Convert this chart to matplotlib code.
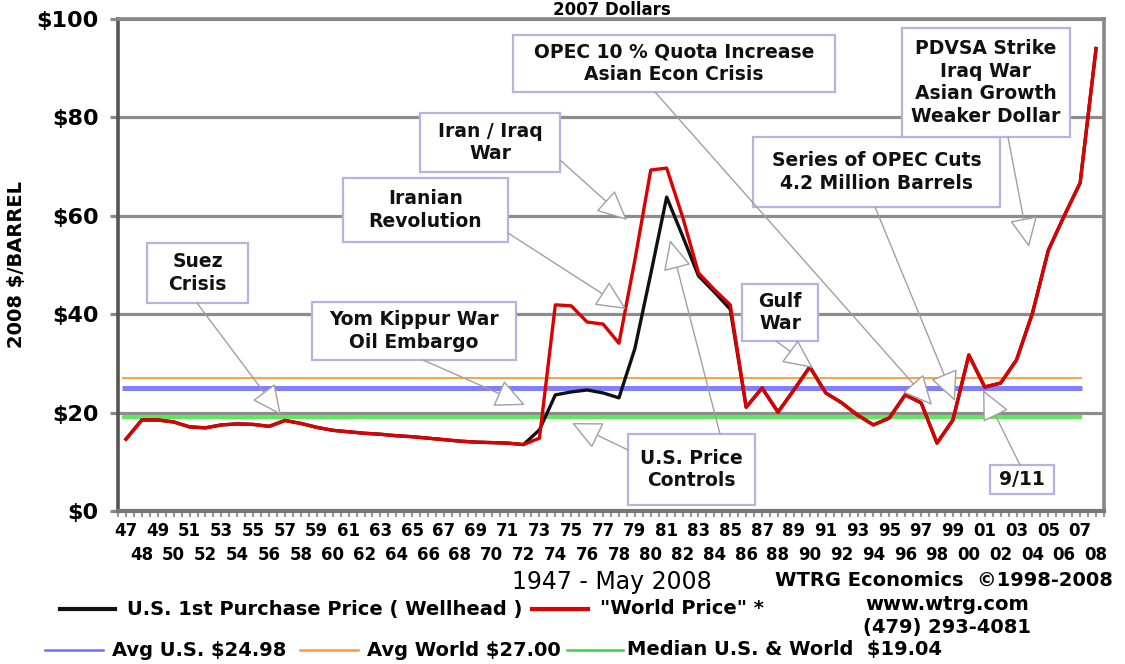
import numpy as np
import matplotlib
matplotlib.use("Agg")
import matplotlib.pyplot as plt
import matplotlib.transforms as mtransforms
from matplotlib.lines import Line2D
from matplotlib.patches import Rectangle, FancyArrowPatch

# ---------------- data ----------------
years = list(range(1947, 2009))
year_labels = [f"{y % 100:02d}" for y in years]

world_price = [14.6, 18.5, 18.5, 18.1, 17.1, 16.9, 17.5, 17.7, 17.6, 17.2,
               18.4, 17.8, 17.0, 16.4, 16.1, 15.8, 15.6, 15.3, 15.1, 14.8,
               14.5, 14.2, 14.0, 13.9, 13.8, 13.5, 14.8, 41.9, 41.7, 38.4,
               38.0, 34.1, 51.0, 69.3, 69.7, 59.8, 48.4, 45.0, 41.9, 21.1,
               25.0, 20.1, 24.6, 29.3, 24.0, 22.0, 19.5, 17.5, 18.9, 23.6,
               22.0, 13.8, 18.5, 31.7, 25.2, 26.0, 30.7, 40.2, 53.0, 60.0,
               66.7, 94.0]

us_price = [14.6, 18.5, 18.5, 18.1, 17.1, 16.9, 17.5, 17.7, 17.6, 17.2,
            18.4, 17.8, 17.0, 16.4, 16.1, 15.8, 15.6, 15.3, 15.1, 14.8,
            14.5, 14.2, 14.0, 13.9, 13.8, 13.5, 16.5, 23.6, 24.2, 24.6,
            24.0, 23.0, 33.0, 48.2, 63.8, 55.9, 47.8, 44.5, 41.0, 21.1,
            25.0, 20.1, 24.6, 29.3, 24.0, 22.0, 19.5, 17.5, 18.9, 23.6,
            22.0, 13.8, 18.5, 31.7, 25.2, 26.0, 30.7, 40.2, 53.0, 60.0,
            66.7, 94.0]

avg_us = 24.98
avg_world = 27.00
median_all = 19.04

y_ticks = [0, 20, 40, 60, 80, 100]
y_tick_labels = ["$0", "$20", "$40", "$60", "$80", "$100"]

# annotation boxes: text, (left, top, right, bottom) in pixels
boxes = [
    ("Suez\nCrisis", (147, 243, 248, 303)),
    ("Yom Kippur War\nOil Embargo", (312, 302, 516, 360)),
    ("Iranian\nRevolution", (343, 178, 508, 242)),
    ("Iran / Iraq\nWar", (420, 113, 560, 172)),
    ("OPEC 10 % Quota Increase\nAsian Econ Crisis", (513, 35, 835, 92)),
    ("Series of OPEC Cuts\n4.2 Million Barrels", (753, 137, 1000, 207)),
    ("PDVSA Strike\nIraq War\nAsian Growth\nWeaker Dollar", (902, 28, 1070, 137)),
    ("Gulf\nWar", (742, 284, 818, 341)),
    ("U.S. Price\nControls", (628, 434, 755, 505)),
    ("9/11", (990, 465, 1054, 494)),
]

# arrows: (start, tip) in pixels
arrows = [
    ((197, 303), (281, 415)),
    ((423, 360), (525, 405)),
    ((508, 233), (626, 309)),
    ((560, 160), (627, 220)),
    ((655, 92), (932, 405)),
    ((875, 207), (955, 401)),
    ((1008, 137), (1029, 247)),
    ((776, 341), (813, 368)),
    ((628, 450), (572, 423)),
    ((720, 434), (670, 240)),
    ((1020, 465), (983, 390)),
]

# ---------------- figure ----------------
W, H = 1125, 664
fig = plt.figure(figsize=(W / 100, H / 100), dpi=100)
fig.patch.set_facecolor("white")
px = mtransforms.Affine2D().scale(1 / W, -1 / H).translate(0, 1) + fig.transFigure

ax = fig.add_axes([118 / W, 1 - 511 / H, 986 / W, 492 / H])
x = np.arange(len(years))

ax.set_xlim(-0.5, len(years) - 0.5)
ax.set_ylim(0, 100)

ax.yaxis.grid(True, color="#8c8c8c", lw=2.3)
ax.set_axisbelow(True)

ax.hlines(avg_world, -0.25, 60.1, color="#ff9933", lw=1.3, zorder=3)
ax.hlines(avg_us, -0.25, 60.1, color="#8080ff", lw=3.6, zorder=3)
ax.hlines(median_all, -0.25, 60.1, color="#5ee85e", lw=3.0, zorder=3)

ax.plot(x, us_price, color="#111111", lw=2.4, zorder=4)
ax.plot(x, world_price, color="#dd0000", lw=2.4, zorder=5)

ax.set_yticks(y_ticks, y_tick_labels, fontsize=16, fontweight="bold")
ax.tick_params(axis="y", length=6, width=2.3, color="#888888", pad=8)

ax.set_xticks(x, year_labels, fontsize=12, fontweight="bold")
ax.set_xticks(np.arange(-0.5, len(years), 1.0), minor=True)
ax.tick_params(axis="x", which="both", length=4, width=1.5, color="#999999")
for i, t in enumerate(ax.xaxis.get_major_ticks()):
    t.set_pad(4 if i % 2 == 0 else 21)

for side, col, lw in (("left", "#555555", 2.6), ("bottom", "#777777", 3.0),
                      ("right", "#888888", 2.6), ("top", "#888888", 2.6)):
    ax.spines[side].set_color(col)
    ax.spines[side].set_linewidth(lw)

# ---------------- annotations ----------------
for txt, (l, t, r, b) in boxes:
    fig.add_artist(Rectangle((l, t), r - l, b - t, transform=px, facecolor="white",
                             edgecolor="#b4b4e0", lw=1.6, zorder=10))
    fig.text((l + r) / 2, (t + b) / 2, txt, transform=px, ha="center", va="center",
             fontsize=13.5, fontweight="bold", color="#111111", linespacing=1.25,
             zorder=11)

for (s, e) in arrows:
    fig.add_artist(FancyArrowPatch(s, e, transform=px,
                                   arrowstyle="-|>,head_length=1.9,head_width=0.9",
                                   mutation_scale=10, shrinkA=0, shrinkB=0,
                                   facecolor="white", edgecolor="#a0a0a0", lw=1.0,
                                   zorder=12))

# ---------------- titles / labels ----------------
fig.text(612, 1, "2007 Dollars", transform=px, ha="center", va="top",
         fontsize=12, fontweight="bold")
fig.text(17, 265, "2008 $/BARREL", transform=px, ha="center", va="center",
         rotation=90, fontsize=14, fontweight="bold")
fig.text(612, 582, "1947 - May 2008", transform=px, ha="center", va="center",
         fontsize=17)
fig.text(775, 580, "WTRG Economics  \u00a91998-2008", transform=px, ha="left",
         va="center", fontsize=14, fontweight="bold")
fig.text(947, 605, "www.wtrg.com", transform=px, ha="center", va="center",
         fontsize=14, fontweight="bold")
fig.text(947, 628, "(479) 293-4081", transform=px, ha="center", va="center",
         fontsize=14, fontweight="bold")

# ---------------- legend ----------------
legend_items = [
    ((60, 115, 609), "#111111", 3.0, (127, 609), "U.S. 1st Purchase Price ( Wellhead )"),
    ((532, 588, 609), "#dd0000", 3.0, (600, 609), "\"World Price\" *"),
    ((45, 103, 650), "#6f6fff", 1.8, (112, 650), f"Avg U.S. ${avg_us:.2f}"),
    ((300, 358, 650), "#ff9933", 1.8, (367, 650), f"Avg World ${avg_world:.2f}"),
    ((567, 623, 650), "#44cc44", 1.8, (627, 650), f"Median U.S. & World  ${median_all:.2f}"),
]
for (x0, x1, yy), col, lw, (tx, ty), label in legend_items:
    fig.add_artist(Line2D([x0, x1], [yy, yy], transform=px, color=col, lw=lw))
    fig.text(tx, ty, label, transform=px, ha="left", va="center",
             fontsize=14, fontweight="bold")

fig.savefig("out.png", dpi=100)
